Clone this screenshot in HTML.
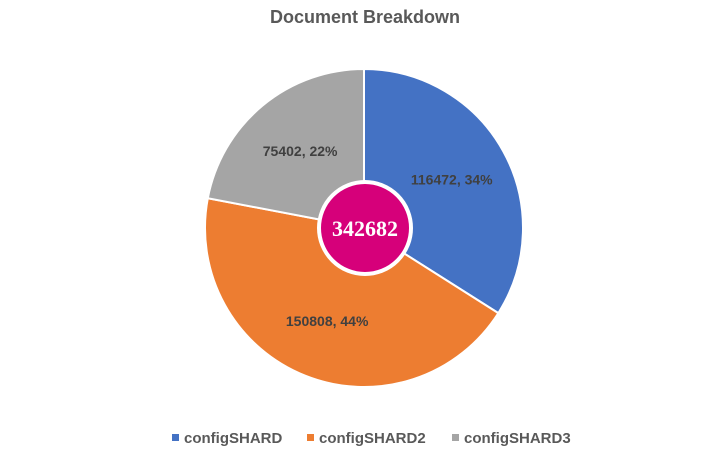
<!DOCTYPE html>
<html><head><meta charset="utf-8"><style>
body{margin:0;background:#fff;width:708px;height:454px;overflow:hidden;font-family:"Liberation Sans",sans-serif}
</style></head><body>
<svg id="chart" width="708" height="454" viewBox="0 0 708 454">
<text x="365" y="23" text-anchor="middle" font-size="18" font-weight="bold" fill="#595959">Document Breakdown</text>
<g id="slices"></g>
<g id="labels"></g>
<circle cx="365" cy="228" r="46" fill="#D6007A" stroke="#fff" stroke-width="4"/>
<text x="365" y="236" text-anchor="middle" font-family="Liberation Serif, serif" font-size="22" font-weight="bold" fill="#fff">342682</text>
<g id="legend"></g>
</svg>
<script>
const categories = ["configSHARD", "configSHARD2", "configSHARD3"];
const values = [116472, 150808, 75402];
const colors = ["#4472C4", "#ED7D31", "#A5A5A5"];
const NS = "http://www.w3.org/2000/svg";
const cx = 364, cy = 228, R = 159;
const total = values.reduce((a, b) => a + b, 0);
const slices = document.getElementById("slices");
const labels = document.getElementById("labels");
let a0 = 0;
function pt(a, r) { return [cx + r * Math.sin(a), cy - r * Math.cos(a)]; }
values.forEach((v, i) => {
  const a1 = a0 + v / total * 2 * Math.PI;
  const [x0, y0] = pt(a0, R), [x1, y1] = pt(a1, R);
  const p = document.createElementNS(NS, "path");
  p.setAttribute("d", `M${cx},${cy} L${x0},${y0} A${R},${R} 0 ${a1 - a0 > Math.PI ? 1 : 0} 1 ${x1},${y1} Z`);
  p.setAttribute("fill", colors[i]);
  p.setAttribute("stroke", "#fff");
  p.setAttribute("stroke-width", "2");
  
  
  slices.appendChild(p);
  const am = (a0 + a1) / 2;
  const [lx, ly] = pt(am, R * 0.63);
  const t = document.createElementNS(NS, "text");
  t.setAttribute("x", lx); t.setAttribute("y", ly + 5);
  t.setAttribute("text-anchor", "middle");
  t.setAttribute("font-size", "14"); t.setAttribute("font-weight", "bold");
  t.setAttribute("fill", "#404040");
  t.textContent = v + ", " + Math.round(v / total * 100) + "%";
  
  
  labels.appendChild(t);
  a0 = a1;
});
const legend = document.getElementById("legend");
const lxs = [172, 307, 452];
categories.forEach((c, i) => {
  const g = document.createElementNS(NS, "g");
  
  
  const r = document.createElementNS(NS, "rect");
  r.setAttribute("x", lxs[i]); r.setAttribute("y", 434); r.setAttribute("width", 7); r.setAttribute("height", 7);
  r.setAttribute("fill", colors[i]);
  const t = document.createElementNS(NS, "text");
  t.setAttribute("x", lxs[i] + 12); t.setAttribute("y", 443);
  t.setAttribute("font-size", "15"); t.setAttribute("font-weight", "bold");
  t.setAttribute("fill", "#595959");
  t.textContent = c;
  g.appendChild(r); g.appendChild(t);
  legend.appendChild(g);
});
</script>
</body></html>
